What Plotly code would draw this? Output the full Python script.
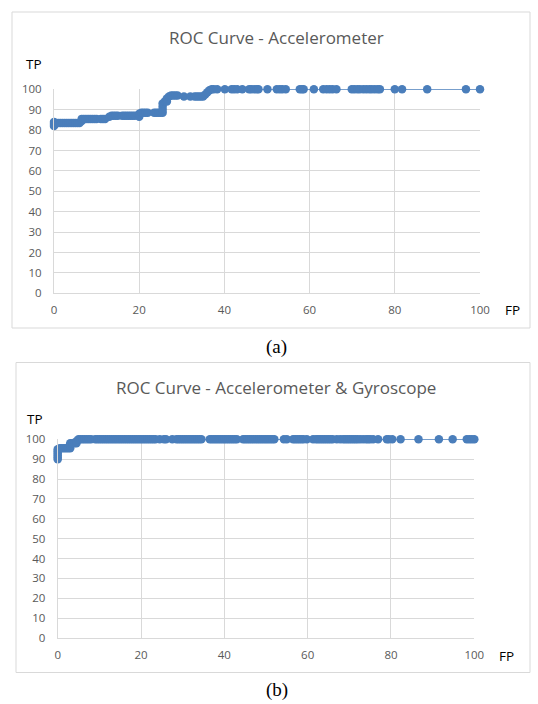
import plotly.graph_objects as go

# ---------------- data ----------------
fp_acc = [0, 0, 0, 0.5, 1, 1.5, 2, 2.5, 3, 3.5, 4, 4.5, 5, 5.5, 6, 6.5, 6.5, 7, 7.5, 8, 8.5, 9, 9.5, 10,
          11, 11.5, 12, 13, 13.5, 14, 14.5, 15, 16, 16.5, 17, 17.5, 18, 18.5, 19, 20, 20, 20.5, 21, 21.5,
          22, 23.5, 24, 24.5, 25, 25.5, 25.5, 25.5, 25.5, 26, 26.5, 26.5, 27, 27.5, 28, 28.5, 29, 30.5,
          32, 33, 33.5, 34, 34.5, 35, 35.5, 36, 36.5, 37, 37.5, 38.3, 40.1, 41.7, 42.3, 43, 44.2, 45.8,
          46.3, 47, 47.6, 48, 50.1, 52.3, 53, 53.6, 54.4, 57.7, 58.2, 58.6, 61, 63.2, 64, 64.7, 65.4,
          66.3, 69.9, 70.5, 71.2, 71.8, 72.6, 73.3, 74, 74.6, 75.3, 76, 76.5, 80, 81.7, 87.6, 96.7, 100]
tp_acc = [82, 83, 84, 83.5, 83.5, 83.5, 83.5, 83.5, 83.5, 83.5, 83.5, 83.5, 83.5, 83.5, 83.5, 84.5, 85.5,
          85.5, 85.5, 85.5, 85.5, 85.5, 85.5, 85.5, 85.5, 85.5, 85.5, 86.5, 87, 87, 87, 87, 87, 87, 87,
          87, 87, 87, 87, 86.5, 88, 88.5, 88.5, 88.5, 88.5, 88.5, 88.5, 88.5, 88.5, 88.5, 90, 91.5, 93,
          94, 94, 95.5, 96.5, 97, 97, 97, 97, 96.5, 96.5, 96.5, 96.5, 96.5, 96.5, 96.5, 97.5, 98.5,
          99.5, 100, 100, 100, 100, 100, 100, 100, 100, 100, 100, 100, 100, 100, 100, 100, 100, 100,
          100, 100, 100, 100, 100, 100, 100, 100, 100, 100, 100, 100, 100, 100, 100, 100, 100, 100,
          100, 100, 100, 100, 100, 100, 100, 100]

fp_gyro = [0, 0, 0, 0, 0, 0, 0.5, 1, 1.5, 2, 2.5, 3, 3, 3, 3.5, 4, 4.5, 4.5,
           5, 5.5, 6, 6.5, 7, 7.5, 8, 9, 9.5, 10, 10.5, 11, 11.5, 12, 12.5, 13, 13.5, 14, 14.5, 15,
           15.5, 16, 16.5, 17, 17.5, 18, 18.5, 19, 19.5, 20, 20.5, 21, 21.5, 22, 22.5, 23, 23.5, 24.5,
           25.5, 26, 27.5, 28.5, 29, 29.5, 30, 30.5, 31, 31.5, 32, 32.5, 33, 33.5, 34, 34.5, 36.5, 37,
           37.5, 38, 38.5, 39, 39.5, 40, 40.5, 41, 41.5, 42, 42.5, 43, 44.5, 45, 45.5, 46, 46.5, 47,
           47.5, 48, 48.5, 49, 49.5, 50, 50.5, 51, 51.5, 52, 54.3, 55, 56.5, 57, 57.5, 58, 58.5, 59,
           59.8, 61.3, 62, 62.5, 63, 63.5, 64, 64.5, 65, 65.5, 66, 67, 67.8, 68.5, 69, 69.5, 70, 70.5,
           71, 71.5, 72, 72.6, 73.3, 74, 74.5, 75, 75.7, 76.9, 79, 79.5, 80.3, 82.3, 86.6, 91.5, 94.8,
           98.2, 98.8, 99.4, 100]
tp_gyro = [90, 91, 92, 93, 94, 95, 95.5, 95.5, 95.5, 95.5, 95.5, 95.5, 97, 98, 98, 98, 98, 99] + \
          [100] * 134

x_ticks = [0, 20, 40, 60, 80, 100]
y_ticks = [0, 10, 20, 30, 40, 50, 60, 70, 80, 90, 100]

title_a = "ROC Curve - Accelerometer"
title_b = "ROC Curve - Accelerometer &amp; Gyroscope"

# ---------------- layout helpers ----------------
W, H = 538, 704
def px(x):
    return x / W
def py(y):
    return 1 - y / H

BLUE = "#4a7ebb"
GRID = "#d9d9d9"
TXT = "#595959"
FONT = "Open Sans"

fig = go.Figure()
fig.add_trace(go.Scatter(x=fp_acc, y=tp_acc, mode="lines+markers", xaxis="x", yaxis="y",
                         line=dict(color=BLUE, width=1.5), marker=dict(color=BLUE, size=8.5),
                         cliponaxis=False, showlegend=False))
fig.add_trace(go.Scatter(x=fp_gyro, y=tp_gyro, mode="lines+markers", xaxis="x2", yaxis="y2",
                         line=dict(color=BLUE, width=1.5), marker=dict(color=BLUE, size=8.5),
                         cliponaxis=False, showlegend=False))

axis_common = dict(showgrid=True, gridcolor=GRID, gridwidth=1, zeroline=False,
                   showline=True, linecolor=GRID, linewidth=1, automargin=False,
                   tickfont=dict(family=FONT, size=11.5, color=TXT), fixedrange=True)

fig.update_layout(
    width=W, height=H, margin=dict(l=0, r=0, t=0, b=0, pad=0),
    paper_bgcolor="white", plot_bgcolor="white",
    xaxis=dict(domain=[px(54), px(480)], range=[0, 100], tickvals=x_ticks, anchor="y",
               ticklabelstandoff=6, **axis_common),
    yaxis=dict(domain=[py(293.3), py(89.3)], range=[0, 100], tickvals=y_ticks, anchor="x",
               ticklabelstandoff=9, **axis_common),
    xaxis2=dict(domain=[px(57.7), px(474.3)], range=[0, 100], tickvals=x_ticks, anchor="y2",
                ticklabelstandoff=6, **axis_common),
    yaxis2=dict(domain=[py(638), py(439.3)], range=[0, 100], tickvals=y_ticks, anchor="x2",
                ticklabelstandoff=9, **axis_common),
)

# chart boxes
for (x0, y0, x1, y1) in [(12, 12, 530, 328), (16, 362.5, 530, 672.5)]:
    fig.add_shape(type="rect", xref="paper", yref="paper",
                  x0=px(x0), x1=px(x1), y0=py(y1), y1=py(y0),
                  line=dict(color=GRID, width=1), fillcolor="rgba(0,0,0,0)", layer="below")

def ann(text, x, y, size, color, family, xanchor="center"):
    fig.add_annotation(text=text, x=px(x), y=py(y), xref="paper", yref="paper",
                       showarrow=False, xanchor=xanchor, yanchor="middle",
                       font=dict(size=size, color=color, family=family))

ann(title_a, 276, 37, 17, TXT, FONT)
ann(title_b, 276, 387, 17, TXT, FONT)
ann("TP", 34, 64, 13.5, "#000000", FONT)
ann("TP", 35, 419, 13.5, "#000000", FONT)
ann("FP", 512, 310, 13.5, "#000000", FONT)
ann("FP", 506, 656, 13.5, "#000000", FONT)
ann("(a)", 276, 347, 19, "#000000", "Liberation Serif")
ann("(b)", 277, 690, 19, "#000000", "Liberation Serif")

fig.write_html("out.html", config={"displayModeBar": False},
               post_script="document.body.style.margin='0';document.body.style.overflow='hidden';")
